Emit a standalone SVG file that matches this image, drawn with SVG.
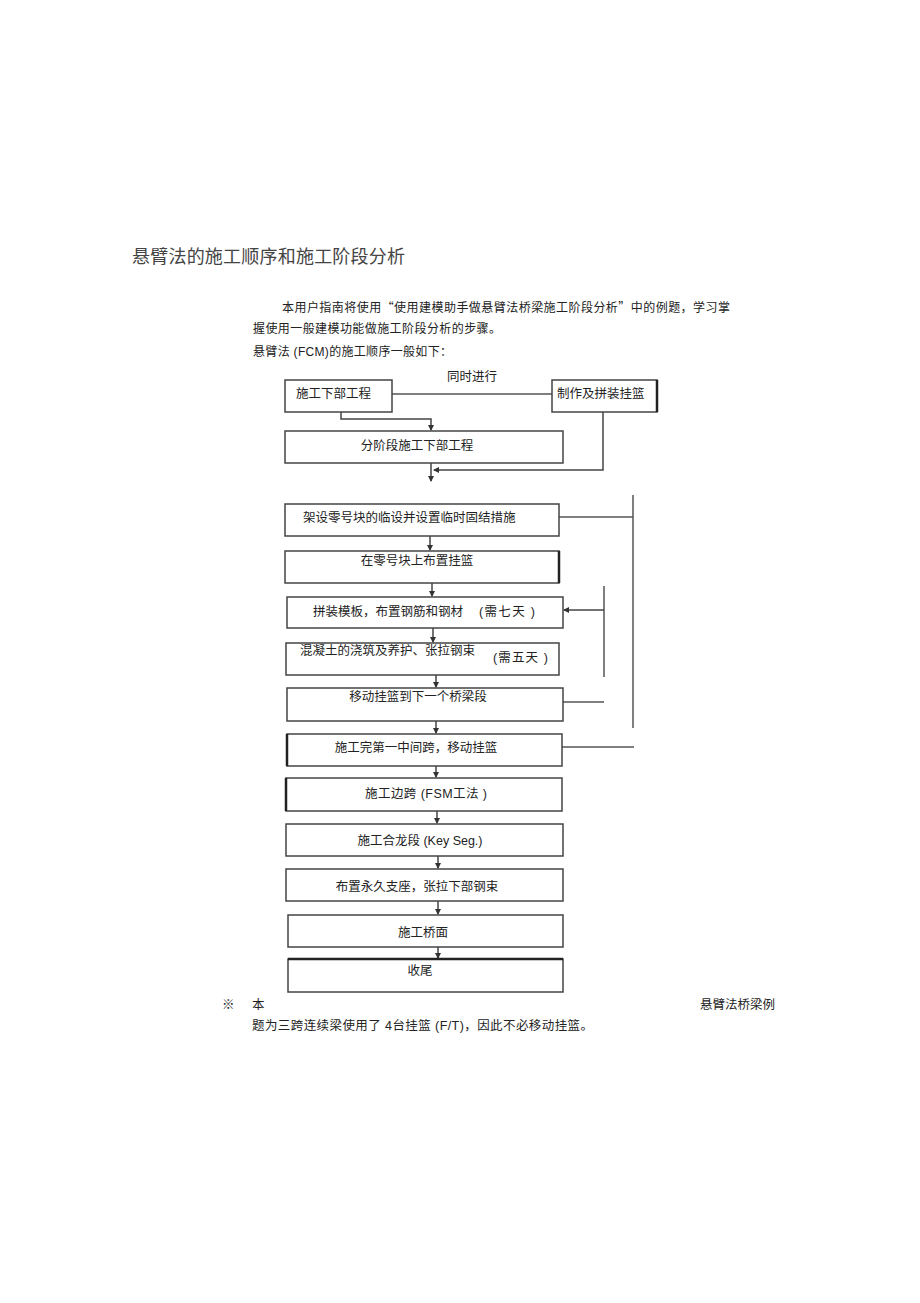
<svg xmlns="http://www.w3.org/2000/svg" width="920" height="1303" viewBox="0 0 920 1303">
<defs>
<style>
text{font-family:"Liberation Sans","Noto Sans CJK SC",sans-serif;fill:#222;font-size:12.5px}
.title{font-size:18px;fill:#444}
.p{font-size:12px}
.cjk{font-family:"Noto Sans CJK SC",sans-serif}
.box{fill:#fff;stroke:#444;stroke-width:1.5}
.thick{stroke:#222;stroke-width:2.5;fill:none}
.ln{fill:none;stroke:#555;stroke-width:1.5}
.ar{fill:none;stroke:#444;stroke-width:1.5;marker-end:url(#ah)}
.mid{text-anchor:middle}
</style>
<marker id="ah" markerWidth="6" markerHeight="6" refX="5" refY="3" orient="auto" markerUnits="userSpaceOnUse">
<path d="M0,0 L6,3 L0,6 Z" fill="#333"/>
</marker>
</defs>
<rect width="920" height="1303" fill="#fff"/>

<text class="title" x="132" y="263" textLength="273">悬臂法的施工顺序和施工阶段分析</text>
<text class="p" x="282" y="312" textLength="448">本用户指南将使用<tspan class="cjk">“</tspan>使用建模助手做悬臂法桥梁施工阶段分析<tspan class="cjk">”</tspan>中的例题，学习掌</text>
<text class="p" x="253" y="333" textLength="248">握使用一般建模功能做施工阶段分析的步骤。</text>
<text class="p" x="253" y="356" textLength="199">悬臂法 (FCM)的施工顺序一般如下：</text>

<g id="connectors">
<line class="ln" x1="392" y1="394" x2="552" y2="394"/>
<path class="ar" d="M341,412 V419 H431 V430"/>
<path class="ar" d="M603,412 V470 H434"/>
<path class="ar" d="M431,463 V481"/>
<path class="ar" d="M430,536 V550"/>
<path class="ar" d="M432,583 V596"/>
<path class="ar" d="M433,628 V642"/>
<path class="ar" d="M436,675 V687"/>
<path class="ar" d="M436,721 V733"/>
<path class="ar" d="M436,766 V777"/>
<path class="ar" d="M437,811 V823"/>
<path class="ar" d="M438,856 V868"/>
<path class="ar" d="M438,901 V914"/>
<path class="ar" d="M438,947 V958"/>
<line class="ln" x1="633" y1="495" x2="633" y2="728"/>
<line class="ln" x1="559" y1="517" x2="633" y2="517"/>
<line class="ln" x1="562" y1="747" x2="634" y2="747"/>
<line class="ln" x1="604" y1="586" x2="604" y2="677"/>
<path class="ar" d="M604,610 H564"/>
<line class="ln" x1="563" y1="702" x2="604" y2="702"/>
</g>

<text class="mid" x="472" y="381">同时进行</text>

<g id="n1"><rect class="box" x="285" y="380" width="107" height="32"/><text x="296" y="398">施工下部工程</text></g>
<g id="n2"><rect class="box" x="552" y="380" width="105" height="32"/><line class="thick" x1="657" y1="380" x2="657" y2="412"/><text x="557" y="398">制作及拼装挂篮</text></g>
<g id="n3"><rect class="box" x="285" y="431" width="278" height="32"/><text class="mid" x="417" y="450">分阶段施工下部工程</text></g>
<g id="n4"><rect class="box" x="285" y="504" width="274" height="32"/><text x="303" y="522">架设零号块的临设并设置临时固结措施</text></g>
<g id="n5"><rect class="box" x="285" y="551" width="274" height="32"/><line class="thick" x1="559" y1="551" x2="559" y2="583"/><text class="mid" x="417" y="565">在零号块上布置挂篮</text></g>
<g id="n6"><rect class="box" x="287" y="597" width="276" height="31"/><text x="313" y="616">拼装模板，布置钢筋和钢材</text><text x="479" y="616" textLength="56">(需七天 )</text></g>
<g id="n7"><rect class="box" x="286" y="643" width="273" height="32"/><text x="300" y="655">混凝土的浇筑及养护、张拉钢束</text><text x="493" y="662" textLength="55">(需五天 )</text></g>
<g id="n8"><rect class="box" x="287" y="688" width="276" height="33"/><text class="mid" x="418" y="701">移动挂篮到下一个桥梁段</text></g>
<g id="n9"><rect class="box" x="287" y="734" width="275" height="32"/><line class="thick" x1="287" y1="734" x2="287" y2="766"/><text class="mid" x="416" y="752">施工完第一中间跨，移动挂篮</text></g>
<g id="n10"><rect class="box" x="286" y="778" width="276" height="33"/><line class="thick" x1="286" y1="778" x2="286" y2="811"/><text x="365" y="798" textLength="122">施工边跨 (FSM工法 )</text></g>
<g id="n11"><rect class="box" x="286" y="824" width="277" height="32"/><text class="mid" x="420" y="845">施工合龙段 (Key Seg.)</text></g>
<g id="n12"><rect class="box" x="286" y="869" width="277" height="32"/><text class="mid" x="417" y="891">布置永久支座，张拉下部钢束</text></g>
<g id="n13"><rect class="box" x="288" y="915" width="275" height="32"/><text class="mid" x="423" y="937">施工桥面</text></g>
<g id="n14"><rect class="box" x="288" y="959" width="275" height="33"/><line class="thick" x1="288" y1="959" x2="563" y2="959"/><text class="mid" x="420" y="975">收尾</text></g>

<text x="222" y="1009">※</text>
<text x="252" y="1009">本</text>
<text x="700" y="1009" textLength="75">悬臂法桥梁例</text>
<text x="252" y="1030" textLength="341">题为三跨连续梁使用了   4台挂篮 (F/T)，因此不必移动挂篮。</text>
</svg>
